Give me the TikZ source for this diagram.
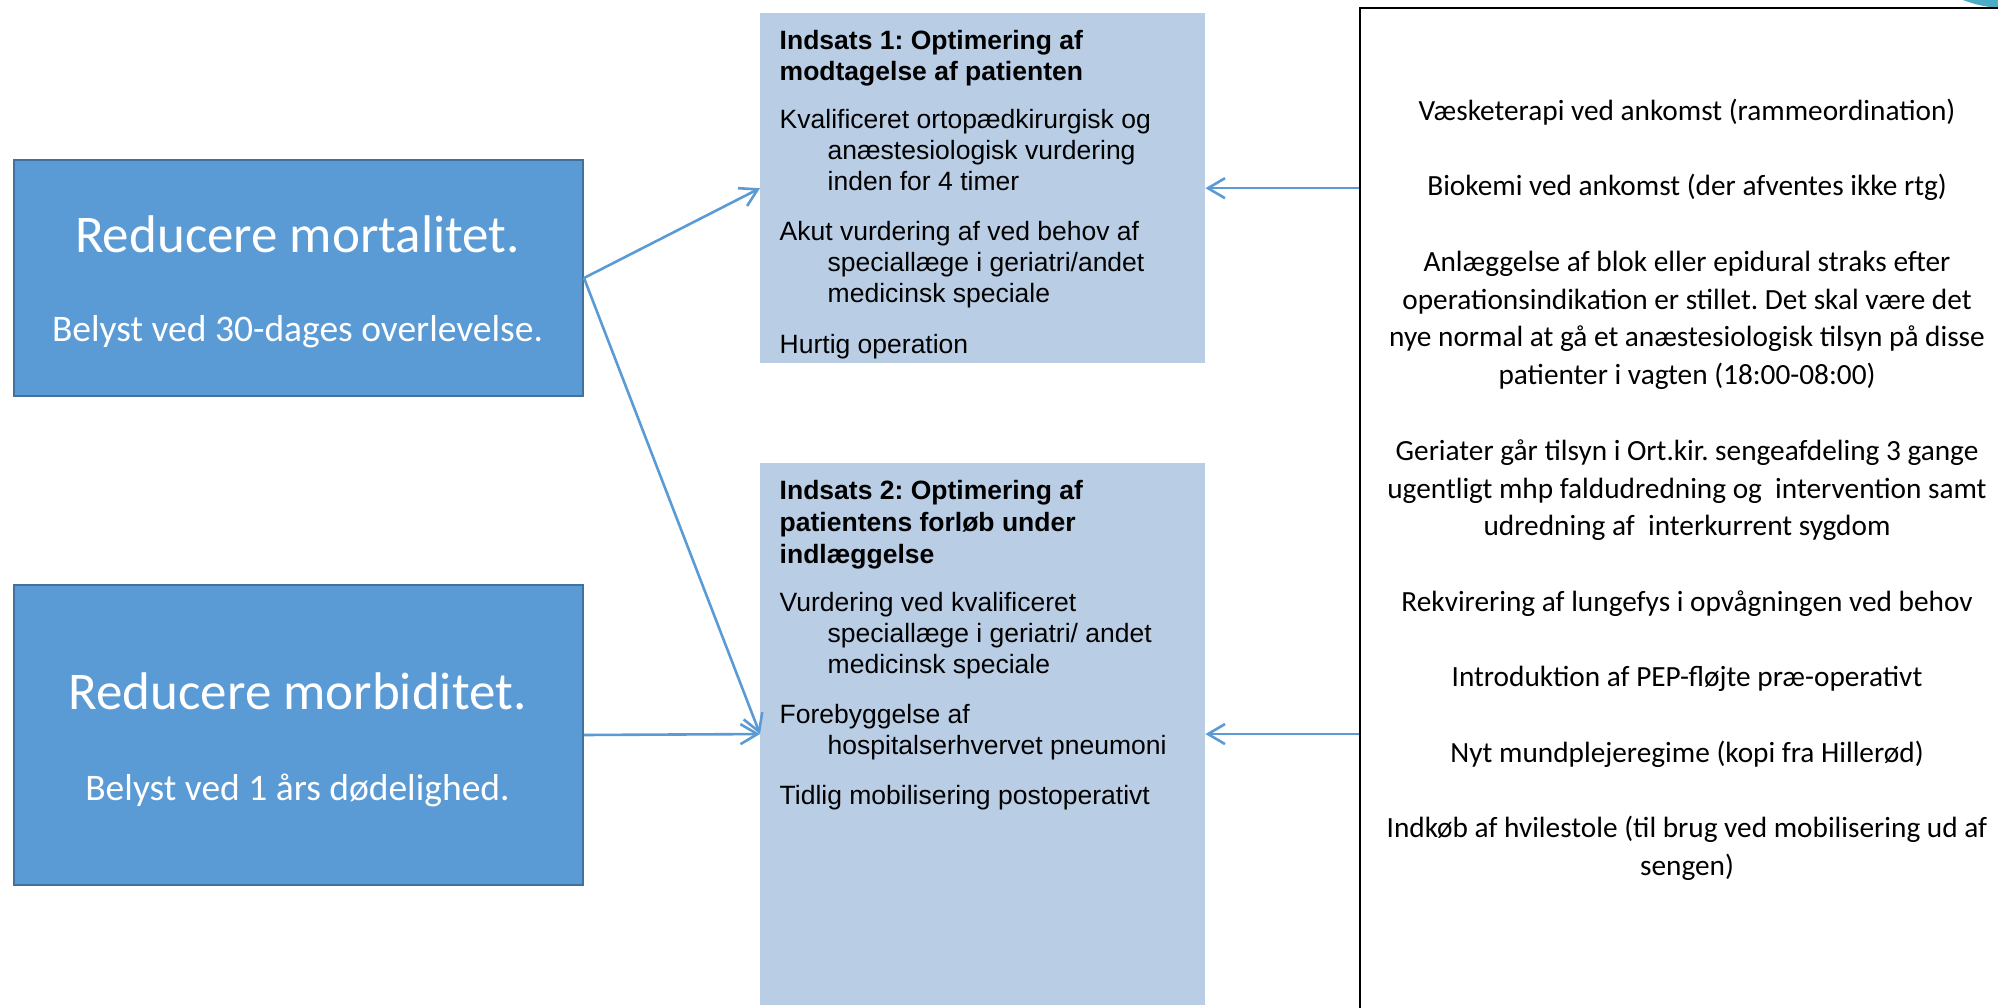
\documentclass[tikz,border=0pt]{standalone}
\usepackage{fontspec}
\setmainfont{Liberation Sans}
\newfontfamily\carlito{Carlito}
\newfontfamily\arialf{Liberation Sans}
\usetikzlibrary{arrows.meta}
\definecolor{goalblue}{HTML}{5B9BD5}
\definecolor{goalborder}{HTML}{41719C}
\definecolor{lightbox}{HTML}{B9CDE5}
\definecolor{arrowblue}{HTML}{5B9BD5}
\definecolor{tealblob}{HTML}{4BACC6}
\frenchspacing
\begin{document}
\begin{tikzpicture}[x=1pt,y=-1pt,
  goalbox/.style={draw=goalborder, line width=2pt, fill=goalblue, inner sep=0pt, anchor=north west, minimum width=569pt},
  indbox/.style={fill=lightbox, inner sep=0pt, anchor=north west, minimum width=445pt},
  listbox/.style={draw=black, line width=1.5pt, inner sep=0pt, anchor=north west, minimum width=700pt, minimum height=1100pt},
  goaltitle/.style={anchor=base, inner sep=0pt, text=white, font=\carlito\fontsize{53}{64}\selectfont},
  goalsub/.style={anchor=base, inner sep=0pt, text=white, font=\carlito\fontsize{37.5}{45}\selectfont},
  indhead/.style={anchor=base west, inner sep=0pt, font=\arialf\bfseries\fontsize{26.5}{31}\selectfont},
  indline/.style={anchor=base west, inner sep=0pt, font=\arialf\fontsize{26.5}{31}\selectfont},
  listline/.style={anchor=base, inner sep=0pt, font=\carlito\fontsize{29.3}{37.75}\selectfont},
  conn/.style={draw=arrowblue, line width=2.6pt, -{Straight Barb[length=17pt,width=20pt]}}
]
\useasboundingbox (0,0) rectangle (1998,1008);
\clip (0,0) rectangle (1998,1008);

% teal fragment at top right
\fill[tealblob] (2005,-106) circle[radius=114];

% goal boxes
\node[goalbox, minimum height=236pt] (mort) at (13,159) {};
\node[goalbox, minimum height=300pt] (morb) at (13,584) {};

\node[goaltitle] (mortT) at (297.5,253) {Reducere mortalitet.};
\node[goalsub] (mortS) at (297.5,342) {Belyst ved 30-dages overlevelse.};
\node[goaltitle] (morbT) at (297.5,709) {Reducere morbiditet.};
\node[goalsub] (morbS) at (297.5,800) {Belyst ved 1 års dødelighed.};

% intervention boxes
\node[indbox, minimum height=350.6pt] (ind1) at (760,12.7) {};
\node[indbox, minimum height=542.3pt] (ind2) at (760,462.7) {};

\node[indhead] (i1h1) at (779.5,49.3) {Indsats 1: Optimering af};
\node[indhead] (i1h2) at (779.5,81) {modtagelse af patienten};
\node[indline] (i1a1) at (779.5,129) {Kvalificeret ortopædkirurgisk og};
\node[indline] (i1a2) at (827.5,160) {anæstesiologisk vurdering};
\node[indline] (i1a3) at (827.5,191) {inden for 4 timer};
\node[indline] (i1b1) at (779.5,241) {Akut vurdering af ved behov af};
\node[indline] (i1b2) at (827.5,272) {speciallæge i geriatri/andet};
\node[indline] (i1b3) at (827.5,303) {medicinsk speciale};
\node[indline] (i1c1) at (779.5,353) {Hurtig operation};

\node[indhead] (i2h1) at (779.5,499.5) {Indsats 2: Optimering af};
\node[indhead] (i2h2) at (779.5,531) {patientens forløb under};
\node[indhead] (i2h3) at (779.5,563) {indlæggelse};
\node[indline] (i2a1) at (779.5,611) {Vurdering ved kvalificeret};
\node[indline] (i2a2) at (827.5,642) {speciallæge i geriatri/ andet};
\node[indline] (i2a3) at (827.5,673) {medicinsk speciale};
\node[indline] (i2b1) at (779.5,723) {Forebyggelse af};
\node[indline] (i2b2) at (827.5,754) {hospitalserhvervet pneumoni};
\node[indline] (i2c1) at (779.5,804) {Tidlig mobilisering postoperativt};

% list box
\node[listbox] (rbox) at (1359,7.5) {};
\node[listline] (l1) at (1687,120.5) {Væsketerapi ved ankomst (rammeordination)};
\node[listline] (l2) at (1687,196) {Biokemi ved ankomst (der afventes ikke rtg)};
\node[listline] (l3) at (1687,271.5) {Anlæggelse af blok eller epidural straks efter};
\node[listline] (l4) at (1687,309.25) {operationsindikation er stillet. Det skal være det};
\node[listline] (l5) at (1687,347) {nye normal at gå et anæstesiologisk tilsyn på disse};
\node[listline] (l6) at (1687,384.75) {patienter i vagten (18:00-08:00)};
\node[listline] (l7) at (1687,460.25) {Geriater går tilsyn i Ort.kir. sengeafdeling 3 gange};
\node[listline] (l8) at (1687,498) {ugentligt mhp faldudredning og~ intervention samt};
\node[listline] (l9) at (1687,535.75) {udredning af~ interkurrent sygdom};
\node[listline] (l10) at (1687,611.25) {Rekvirering af lungefys i opvågningen ved behov};
\node[listline] (l11) at (1687,686.75) {Introduktion af PEP-fløjte præ-operativt};
\node[listline] (l12) at (1687,762.25) {Nyt mundplejeregime (kopi fra Hillerød)};
\node[listline] (l13) at (1687,837.75) {Indkøb af hvilestole (til brug ved mobilisering ud af};
\node[listline] (l14) at (1687,875.5) {sengen)};

% connectors
\draw[conn] (mort.east) -- (ind1.west);
\draw[conn] (mort.east) -- (ind2.west);
\draw[conn] (morb.east) -- (ind2.west);
\draw[conn] (rbox.west |- ind1.east) -- (ind1.east);
\draw[conn] (rbox.west |- ind2.east) -- (ind2.east);
\end{tikzpicture}
\end{document}
